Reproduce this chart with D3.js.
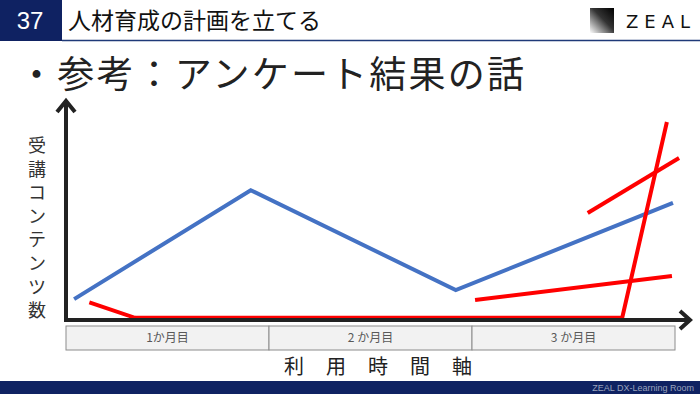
<!DOCTYPE html>
<html lang="ja">
<head>
  <meta charset="UTF-8">
  <title>参考：アンケート結果の話</title>
  <script src="https://d3js.org/d3.v7.min.js"></script>
  <style>
    body { margin: 0; background: #fff; }
    svg { display: block; font-family: "Noto Sans CJK JP", "Noto Sans", sans-serif; }
  </style>
</head>
<body>
  <svg width="700" height="394"></svg>
  <script>
    // slide texts
    const pageNo = "37";
    const pageTitle = "人材育成の計画を立てる";
    const subtitle = "・参考：アンケート結果の話";
    const yLabel = "受講コンテンツ数";
    const xLabel = ["利", "用", "時", "間", "軸"];
    const months = ["1か月目", "2 か月目", "3 か月目"];

    // series: [month position, contents count]
    const blueSeries = [[0.04, 9.5], [0.91, 59], [1.92, 13.6], [2.99, 53.2]];
    const redSeriesA = [[0.115, 8], [0.34, 1], [2.74, 1], [2.96, 90]];
    const redSeriesB = [[2.57, 48.6], [3.02, 73.6]];
    const redSeriesC = [[2.015, 9.1], [2.985, 20]];

    const svg = d3.select('svg');
    const navy = '#0f2262';

    // header
    svg.append('rect').attr('x', 0).attr('y', 0).attr('width', 62).attr('height', 41).attr('fill', navy);
    svg.append('line').attr('x1', 62).attr('x2', 700).attr('y1', 40.5).attr('y2', 40.5)
      .attr('stroke', '#1f3a78').attr('stroke-width', 1.5);
    svg.append('text').attr('x', 30).attr('y', 29).attr('text-anchor', 'middle')
      .attr('fill', '#fff').style('font-family', 'Arial, "Liberation Sans", sans-serif')
      .style('font-size', '24px').text(pageNo);
    svg.append('text').attr('x', 68).attr('y', 29).attr('fill', '#111')
      .style('font-size', '23px').text(pageTitle);

    // logo
    const grad = svg.append('defs').append('linearGradient').attr('id', 'logoGrad')
      .attr('x1', '0%').attr('y1', '100%').attr('x2', '100%').attr('y2', '0%');
    grad.append('stop').attr('offset', '0%').attr('stop-color', '#fff');
    grad.append('stop').attr('offset', '55%').attr('stop-color', '#333');
    grad.append('stop').attr('offset', '100%').attr('stop-color', '#000');
    svg.append('rect').attr('x', 590).attr('y', 8).attr('width', 24).attr('height', 25).attr('fill', 'url(#logoGrad)');
    svg.append('text').attr('x', 626).attr('y', 28).attr('fill', '#111')
      .style('font-family', '"DejaVu Sans", sans-serif').style('font-size', '18px')
      .style('letter-spacing', '6px').text('ZEAL');

    // subtitle
    svg.append('text').attr('x', 18).attr('y', 88).attr('fill', '#222')
      .style('font-size', '37px').style('letter-spacing', '2.2px').text(subtitle);

    // chart area
    const x = d3.scaleLinear().domain([0, 3]).range([66, 675]);
    const y = d3.scaleLinear().domain([0, 100]).range([320, 100]);

    const line = d3.line().x(d => x(d[0])).y(d => y(d[1]));

    // month boxes under the axis
    months.forEach((m, i) => {
      svg.append('rect').attr('x', x(i)).attr('y', 326).attr('width', x(i + 1) - x(i)).attr('height', 24)
        .attr('fill', '#f2f2f2').attr('stroke', '#8c8c8c').attr('stroke-width', 1);
      svg.append('text').attr('x', (x(i) + x(i + 1)) / 2).attr('y', 342).attr('text-anchor', 'middle')
        .attr('fill', '#595959').style('font-size', '12px').text(m);
    });

    // series
    svg.append('path').datum(blueSeries).attr('d', line).attr('fill', 'none')
      .attr('stroke', '#4472c4').attr('stroke-width', 4);
    [redSeriesA, redSeriesB, redSeriesC].forEach(s => {
      svg.append('path').datum(s).attr('d', line).attr('fill', 'none')
        .attr('stroke', '#ff0000').attr('stroke-width', 4);
    });

    // axes with arrows
    const ax = svg.append('g').attr('stroke', '#222').attr('stroke-width', 4).attr('fill', 'none');
    ax.append('path').attr('d', `M${x(0)},${y(0) + 2}V${y(0) - 220}`);
    ax.append('path').attr('d', `M${x(0) - 9},${y(0) - 208}L${x(0)},${y(0) - 219}L${x(0) + 9},${y(0) - 208}`);
    ax.append('path').attr('d', `M${x(0) - 2},${y(0)}H${x(3) + 15}`);
    ax.append('path').attr('d', `M${x(3) + 5},${y(0) - 9}L${x(3) + 15},${y(0)}L${x(3) + 5},${y(0) + 9}`);

    // axis labels
    yLabel.split('').forEach((c, i) => {
      svg.append('text').attr('x', 37).attr('y', 152 + i * 23.6).attr('text-anchor', 'middle')
        .attr('fill', '#333').style('font-size', '18px').text(c);
    });
    xLabel.forEach((c, i) => {
      svg.append('text').attr('x', 294 + i * 42).attr('y', 374).attr('text-anchor', 'middle')
        .attr('fill', '#222').style('font-size', '20px').text(c);
    });

    // footer
    svg.append('rect').attr('x', 0).attr('y', 381).attr('width', 700).attr('height', 13).attr('fill', navy);
    svg.append('text').attr('x', 694).attr('y', 391).attr('text-anchor', 'end')
      .attr('fill', '#9aa3bd').style('font-family', '"Liberation Sans", Arial, sans-serif')
      .style('font-size', '9px').text('ZEAL DX-Learning Room');
  </script>
</body>
</html>
